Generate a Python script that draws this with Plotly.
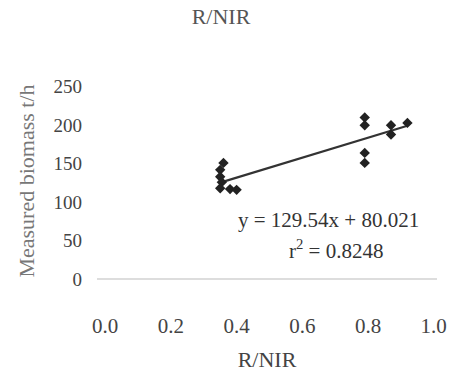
import plotly.graph_objects as go

# R/NIR ratio vs. measured biomass
ratio = [0.36, 0.35, 0.35, 0.355, 0.35, 0.38, 0.40,
         0.79, 0.79, 0.79, 0.79, 0.87, 0.87, 0.92]
biomass = [151, 142, 133, 126, 118, 117, 116,
           210, 200, 164, 151, 200, 188, 203]

slope = 129.54
intercept = 80.021
r2 = 0.8248

x_ticks = [0.0, 0.2, 0.4, 0.6, 0.8, 1.0]
y_ticks = [0, 50, 100, 150, 200, 250]

serif = "Liberation Serif, Times New Roman, serif"

fit_x = [min(ratio), max(ratio)]
fit_y = [slope * v + intercept for v in fit_x]

fig = go.Figure()
fig.add_trace(go.Scatter(
    x=fit_x, y=fit_y, mode="lines",
    line=dict(color="#333333", width=2.2),
    hoverinfo="skip", showlegend=False,
))
fig.add_trace(go.Scatter(
    x=ratio, y=biomass, mode="markers",
    marker=dict(symbol="diamond", size=8, color="#222222"),
    showlegend=False,
))

# regression equation and coefficient of determination
fig.add_annotation(
    x=0.681, y=77, xref="x", yref="y",
    text=f"y = {slope}x + {intercept}",
    showarrow=False,
    font=dict(family=serif, size=21, color="#333333"),
)
fig.add_annotation(
    x=0.703, y=38, xref="x", yref="y",
    text=f"r<sup>2</sup> = {r2}",
    showarrow=False,
    font=dict(family=serif, size=21, color="#333333"),
)

fig.update_layout(
    width=459, height=379,
    margin=dict(l=97, r=22, t=79, b=96),
    paper_bgcolor="white", plot_bgcolor="white",
    title=dict(text="R/NIR", x=221 / 459, xanchor="center", y=1 - 16 / 379, yanchor="middle",
               font=dict(family=serif, size=22, color="#555555")),
    font=dict(family=serif, color="#444444"),
)
fig.update_xaxes(
    range=[-0.025, 1.01], tickvals=x_ticks, ticktext=[f"{v:.1f}" for v in x_ticks],
    showgrid=False, zeroline=False, showline=False, ticks="",
    ticklabelstandoff=28,
    tickfont=dict(family=serif, size=21, color="#444444"),
    title=dict(text="R/NIR", standoff=14, font=dict(family=serif, size=22, color="#444444")),
)
fig.update_yaxes(
    range=[-5, 260], tickvals=y_ticks,
    showgrid=False, zeroline=True, zerolinecolor="#dddddd", zerolinewidth=1.5,
    showline=False, ticks="", ticklabelstandoff=14,
    tickfont=dict(family=serif, size=19, color="#444444"),
    title=dict(text="Measured biomass t/h", standoff=12,
               font=dict(family=serif, size=22, color="#777777")),
)

fig.write_html("out.html")
